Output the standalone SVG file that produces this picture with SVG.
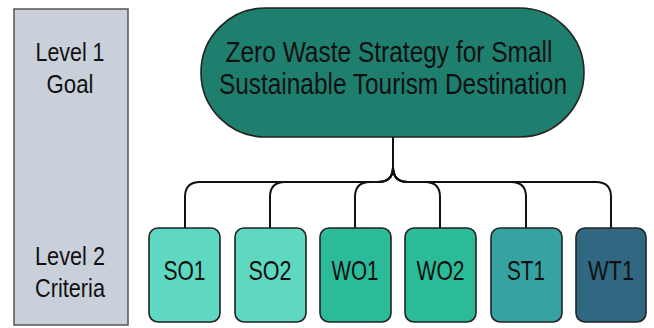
<svg xmlns="http://www.w3.org/2000/svg" width="654" height="328" viewBox="0 0 654 328">
  <style>
    .lbl { font-family: "Liberation Sans", Arial, sans-serif; fill: #111; text-anchor: middle; }
    .lvl { font-size: 25px; }
    .ttl { font-size: 29px; }
    .crit { font-size: 28px; }
    .box { stroke: #222; stroke-width: 1.6; }
    .wire { fill: none; stroke: #111; stroke-width: 2; }
  </style>
  <rect width="654" height="328" fill="#ffffff"/>

  <!-- level legend -->
  <g id="levels">
    <rect x="14" y="9" width="114" height="316" fill="#c9d0da" stroke="#555" stroke-width="1.5"/>
    <text class="lbl lvl" x="70" y="61" textLength="69" lengthAdjust="spacingAndGlyphs">Level 1</text>
    <text class="lbl lvl" x="70" y="93" textLength="47" lengthAdjust="spacingAndGlyphs">Goal</text>
    <text class="lbl lvl" x="70" y="265" textLength="70" lengthAdjust="spacingAndGlyphs">Level 2</text>
    <text class="lbl lvl" x="70" y="297" textLength="70" lengthAdjust="spacingAndGlyphs">Criteria</text>
  </g>

  <!-- connectors: trunk from the goal splitting into one elbow per criterion -->
  <g id="connectors" class="wire">
    <path d="M393,137 V167 Q393,182 378,182 H200 Q185,182 185,197 V228"/>
    <path d="M393,137 V167 Q393,182 378,182 H285 Q270,182 270,197 V228"/>
    <path d="M393,137 V167 Q393,182 378,182 H370 Q355,182 355,197 V228"/>
    <path d="M393,137 V167 Q393,182 408,182 H425 Q440,182 440,197 V228"/>
    <path d="M393,137 V167 Q393,182 408,182 H511 Q526,182 526,197 V228"/>
    <path d="M393,137 V167 Q393,182 408,182 H596 Q611,182 611,197 V228"/>
  </g>

  <!-- goal -->
  <g id="goal">
    <rect class="box" x="201" y="8" width="383" height="129" rx="64.5" fill="#1f7f6e"/>
    <text class="lbl ttl" x="389" y="62" textLength="327" lengthAdjust="spacingAndGlyphs">Zero Waste Strategy for Small</text>
    <text class="lbl ttl" x="393" y="94" textLength="348" lengthAdjust="spacingAndGlyphs">Sustainable Tourism Destination</text>
  </g>

  <!-- criteria -->
  <g id="SO1">
    <rect class="box" x="149" y="228" width="71" height="94" rx="9" fill="#5fd8c2"/>
    <text class="lbl crit" x="184.5" y="280" textLength="42" lengthAdjust="spacingAndGlyphs">SO1</text>
  </g>
  <g id="SO2">
    <rect class="box" x="235" y="228" width="71" height="94" rx="9" fill="#5fd8c2"/>
    <text class="lbl crit" x="270" y="280" textLength="43" lengthAdjust="spacingAndGlyphs">SO2</text>
  </g>
  <g id="WO1">
    <rect class="box" x="320" y="228" width="71" height="94" rx="9" fill="#2bbb98"/>
    <text class="lbl crit" x="355" y="280" textLength="47" lengthAdjust="spacingAndGlyphs">WO1</text>
  </g>
  <g id="WO2">
    <rect class="box" x="405" y="228" width="71" height="94" rx="9" fill="#2bbb98"/>
    <text class="lbl crit" x="440.5" y="280" textLength="48" lengthAdjust="spacingAndGlyphs">WO2</text>
  </g>
  <g id="ST1">
    <rect class="box" x="491" y="228" width="71" height="94" rx="9" fill="#36a3a2"/>
    <text class="lbl crit" x="526" y="280" textLength="38" lengthAdjust="spacingAndGlyphs">ST1</text>
  </g>
  <g id="WT1">
    <rect class="box" x="576" y="228" width="70" height="94" rx="9" fill="#2f6880"/>
    <text class="lbl crit" x="611" y="280" textLength="46" lengthAdjust="spacingAndGlyphs">WT1</text>
  </g>
</svg>
